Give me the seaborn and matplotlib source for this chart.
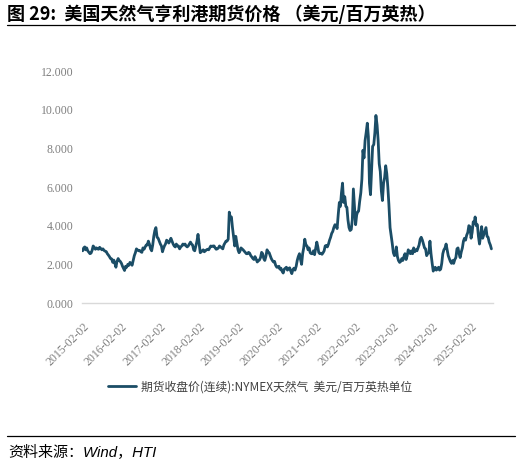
import matplotlib
matplotlib.use("Agg")
import matplotlib.pyplot as plt
from matplotlib.lines import Line2D
import seaborn as sns
import pandas as pd

# ---- data: NYMEX natural gas continuous futures close (USD/MMBtu), ~3 readings per month ----
ng_2015 = [2.70, 2.85, 2.90, 2.75, 2.85, 2.70, 2.62, 2.55, 2.58, 2.72, 2.95, 2.88,
           2.78, 2.85, 2.80, 2.78, 2.88, 2.82, 2.75, 2.80, 2.72, 2.68, 2.66, 2.55,
           2.48, 2.40, 2.30, 2.28, 2.10, 2.22, 2.05, 1.85, 2.15]
ng_2016 = [2.30, 2.20, 2.15, 2.05, 1.90, 1.78, 1.68, 1.90, 1.85, 2.00, 1.95, 2.10,
           2.05, 1.95, 2.20, 2.45, 2.60, 2.80, 2.75, 2.70, 2.72, 2.65, 2.62, 2.85,
           2.78, 2.90, 3.00, 3.00, 3.20, 3.05, 2.80, 2.70, 3.00, 3.45, 3.75, 3.90]
ng_2017 = [3.40, 3.35, 3.20, 3.05, 2.95, 2.65, 2.80, 2.95, 3.05, 3.25, 3.20, 3.10,
           3.20, 3.35, 3.20, 3.05, 2.95, 2.90, 3.05, 2.95, 2.95, 2.80, 2.90, 2.95,
           3.05, 3.00, 3.05, 2.95, 2.90, 2.95, 3.05, 3.15, 3.05, 3.00, 2.75, 2.70]
ng_2018 = [2.95, 3.20, 3.55, 3.05, 2.60, 2.65, 2.70, 2.75, 2.65, 2.70, 2.75, 2.78,
           2.75, 2.85, 2.95, 2.92, 2.95, 2.95, 2.85, 2.78, 2.80, 2.85, 2.95, 2.90,
           2.85, 2.80, 3.00, 3.10, 3.20, 3.20, 3.30, 4.70, 4.40, 4.45, 3.90, 3.45]
ng_2019 = [2.95, 3.45, 3.10, 2.75, 2.60, 2.70, 2.85, 2.80, 2.75, 2.68, 2.62, 2.55,
           2.55, 2.62, 2.58, 2.45, 2.38, 2.30, 2.25, 2.40, 2.28, 2.12, 2.18, 2.22,
           2.35, 2.62, 2.55, 2.30, 2.20, 2.40, 2.75, 2.65, 2.60, 2.45, 2.30, 2.20]
ng_2020 = [2.12, 2.15, 1.95, 1.85, 1.85, 1.90, 1.75, 1.80, 1.65, 1.55, 1.75, 1.80,
           1.85, 1.70, 1.78, 1.82, 1.65, 1.52, 1.72, 1.80, 1.70, 1.90, 2.20, 2.40,
           2.55, 2.25, 2.00, 2.55, 2.85, 3.30, 3.00, 2.95, 2.75, 2.85, 2.60, 2.55]
ng_2021 = [2.55, 2.70, 2.50, 2.85, 3.15, 2.90, 2.62, 2.55, 2.58, 2.52, 2.60, 2.70,
           2.95, 2.98, 2.90, 3.05, 3.25, 3.40, 3.60, 3.70, 3.90, 4.05, 4.00, 3.85,
           4.60, 5.20, 5.00, 5.70, 6.20, 5.20, 5.50, 5.00, 4.95, 4.30, 3.90, 3.75]
ng_2022 = [3.80, 4.30, 5.90, 4.90, 4.05, 4.55, 4.70, 4.75, 5.25, 5.70, 6.40, 7.90,
           7.50, 8.40, 8.80, 9.30, 8.60, 6.20, 5.60, 6.80, 8.10, 8.20, 8.80, 9.70,
           9.20, 8.40, 7.20, 6.80, 5.80, 5.30, 6.20, 6.50, 7.10, 6.70, 6.00, 5.10]
ng_2023 = [3.90, 3.50, 3.10, 2.60, 2.45, 2.50, 2.90, 2.40, 2.20, 2.10, 2.15, 2.30,
           2.20, 2.40, 2.55, 2.25, 2.45, 2.75, 2.65, 2.55, 2.70, 2.55, 2.85, 2.65,
           2.75, 2.70, 2.85, 3.00, 3.30, 3.40, 3.25, 3.05, 2.85, 2.80, 2.45, 2.55]
ng_2024 = [2.60, 3.20, 2.55, 2.05, 1.65, 1.75, 1.85, 1.70, 1.75, 1.85, 1.70, 1.75,
           2.05, 2.55, 2.75, 2.85, 3.05, 2.75, 2.45, 2.30, 2.15, 2.05, 2.20, 2.05,
           2.25, 2.35, 2.80, 2.85, 2.55, 2.35, 2.65, 2.85, 3.20, 3.35, 3.25, 3.50]
ng_2025 = [3.65, 4.00, 3.95, 3.35, 3.65, 4.20, 4.10, 4.45, 4.00, 4.05, 3.45, 3.05,
           3.45, 3.95, 3.35, 3.55, 3.75, 3.90, 3.45, 3.40, 3.15, 3.00, 2.80]
years = [2015, 2016, 2017, 2018, 2019, 2020, 2021, 2022, 2023, 2024, 2025]
yearly = [ng_2015, ng_2016, ng_2017, ng_2018, ng_2019, ng_2020,
          ng_2021, ng_2022, ng_2023, ng_2024, ng_2025]
reading_days = [1, 11, 21]

x_tick_labels = ["2015-02-02", "2016-02-02", "2017-02-02", "2018-02-02",
                 "2019-02-02", "2020-02-02", "2021-02-02", "2022-02-02",
                 "2023-02-02", "2024-02-02", "2025-02-02"]
y_ticks = [0, 2, 4, 6, 8, 10, 12]
series_label = "期货收盘价(连续):NYMEX天然气  美元/百万英热单位"
title = "图 29:  美国天然气亨利港期货价格 （美元/百万英热）"
source = "资料来源：Wind，HTI"

rows = []
for y, vals in zip(years, yearly):
    start_m = 2 if y == 2015 else 1
    ds = [pd.Timestamp(y, m, d) for m in range(start_m, 13) for d in reading_days][:len(vals)]
    rows += list(zip(ds, vals))
df = pd.DataFrame(rows, columns=["date", "price"])

# ---- plot ----
sns.set_theme(style="white")
plt.rcParams["font.family"] = ["Noto Sans CJK SC", "DejaVu Sans"]

W, H = 521, 465
fig = plt.figure(figsize=(W / 100, H / 100), dpi=100)
ax = fig.add_axes([82 / W, 1 - 303 / H, (493 - 82) / W, (303 - 71) / H])

line_color = "#1b4d66"
sns.lineplot(data=df, x="date", y="price", ax=ax, color=line_color,
             linewidth=2.0, label=series_label)
ax.get_legend().remove()

ax.set_xlim(pd.Timestamp("2015-01-26"), pd.Timestamp("2025-08-26"))
ax.set_ylim(0, 12)
ax.set_xlabel("")
ax.set_ylabel("")

ax.set_yticks(y_ticks)
ax.set_yticklabels([f"{v:.3f}" for v in y_ticks], fontfamily="Liberation Serif",
                   fontsize=8.5, color="#7f7f7f")
ax.set_xticks([pd.Timestamp(s) for s in x_tick_labels])
ax.set_xticklabels(x_tick_labels, rotation=45, ha="right", va="top",
                   rotation_mode="anchor", fontfamily="Liberation Serif",
                   fontsize=8.5, color="#7f7f7f")
ax.tick_params(axis="both", length=0)
ax.tick_params(axis="y", pad=6)
ax.tick_params(axis="x", pad=12.5)

for s in ["top", "right", "left"]:
    ax.spines[s].set_visible(False)
ax.spines["bottom"].set_color("#d9d9d9")
ax.spines["bottom"].set_linewidth(1.0)
ax.grid(False)

handles = [Line2D([0], [0], color=line_color, linewidth=2.0)]
fig.legend(handles, [series_label], loc="center",
           bbox_to_anchor=(0.5, 1 - 387 / H), frameon=False,
           fontsize=8.5, handlelength=2.3, handletextpad=0.5,
           labelcolor="#404040")

fig.text(7 / W, 1 - 14 / H, title, fontsize=13, fontweight="bold",
         ha="left", va="center", color="black")
fig.add_artist(Line2D([7 / W, 515 / W], [1 - 25 / H, 1 - 25 / H],
                      color="black", linewidth=0.9))
fig.add_artist(Line2D([7 / W, 515 / W], [1 - 435.5 / H, 1 - 435.5 / H],
                      color="black", linewidth=0.9))
fig.text(8 / W, 1 - 453 / H, source, fontsize=10.8, style="italic",
         family=["Liberation Sans", "Noto Sans CJK SC"],
         ha="left", va="center", color="black")

fig.savefig("out.png", dpi=100)
